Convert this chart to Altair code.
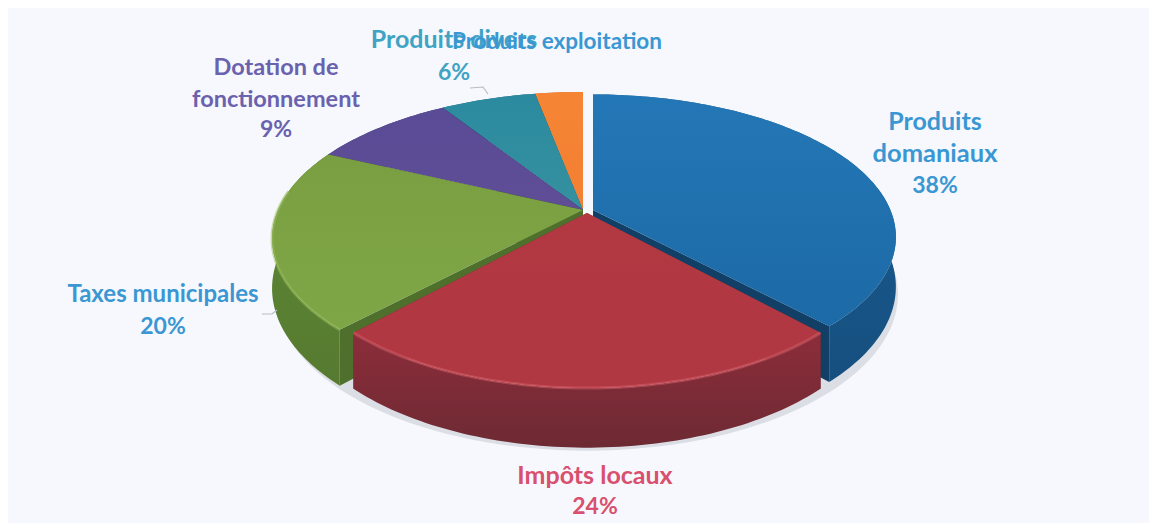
import math
import altair as alt

# ---- data ----
CATEGORIES = ["Produits domaniaux", "Impôts locaux", "Taxes municipales",
              "Dotation de fonctionnement", "Produits divers", "Produits exploitation"]
SHARES = [38, 24, 20, 9, 6, 3]

# ---- styling / layout (kept apart from the data) ----
TOP = {"Produits domaniaux": ("#2477b6", "#1c6aa6"),
       "Impôts locaux": ("#b23842", "#b03843"),
       "Taxes municipales": ("#7a9f42", "#7ea646"),
       "Dotation de fonctionnement": ("#5a4b96", "#5f4e96"),
       "Produits divers": ("#2c8aa0", "#35919f"),
       "Produits exploitation": ("#f58535", "#f47f32")}
WALL = {"Produits domaniaux": ("#1c5f92", "#154f7f"),
        "Impôts locaux": ("#8c2d3a", "#6d2a33"),
        "Taxes municipales": ("#5f8a36", "#567a30"),
        "Dotation de fonctionnement": ("#453a78", "#3a3068"),
        "Produits divers": ("#1f6a7e", "#1a5a6c"),
        "Produits exploitation": ("#c2652a", "#a85722")}
RIM = {"Impôts locaux": "#d8606a", "Taxes municipales": "#97bb5c"}
INNER = {"Produits domaniaux": "#123f66", "Impôts locaux": "#6d2a33",
         "Taxes municipales": "#4f6f2c", "Dotation de fonctionnement": "#2d2658",
         "Produits divers": "#175060", "Produits exploitation": "#a85722"}
# explode dx, dy, radius factor, horizontal factor
OFFSET = {"Produits domaniaux": (10, 0, 0.975, 1.0), "Impôts locaux": (4, 3, 1.0, 0.96)}
DRAW_ORDER = ["Produits exploitation", "Produits divers", "Dotation de fonctionnement",
              "Taxes municipales", "Produits domaniaux", "Impôts locaux"]
PAGE = 8
CX, CY, A, B, K, DEPTH = 583, 210, 305, 141, 0.1945, 48
BG = "#f6f8fd"


def project(angle, rad=1.0, off=(0, 0), down=0.0, xf=1.0):
    X, Y = rad * math.sin(angle), rad * math.cos(angle)
    w = 1 + K * Y
    return [CX + off[0] + xf * A * X / w - PAGE,
            CY + off[1] - B * Y / w + down / w - PAGE]


def feature(kind, coords):
    return {"type": "Feature", "properties": {},
            "geometry": {"type": kind, "coordinates": coords}}


def shape(geom, **mark):
    return (alt.Chart(alt.Data(values=[geom]))
            .mark_geoshape(**mark)
            .project(type="identity", scale=1, translate=[0, 0]))


def grad(c0, c1):
    return {"gradient": "linear", "x1": 0, "y1": 0, "x2": 0, "y2": 1,
            "stops": [{"offset": 0, "color": c0}, {"offset": 1, "color": c1}]}


# slice angles derive from the shares
angles, acc = {}, 0
for name, share in zip(CATEGORIES, SHARES):
    angles[name] = (acc / 100 * 2 * math.pi, (acc + share) / 100 * 2 * math.pi)
    acc += share

layers = []
# soft shadow under the front of the pie only
ring = [project(math.radians(80 + i * 200 / 90), 1.0, (4, 6), DEPTH) for i in range(91)]
ring.append(ring[0])
layers.append(shape(feature("Polygon", [ring]), fill="#8a8f9c", opacity=0.25, stroke=None))

for name in DRAW_ORDER:
    a0, a1 = angles[name]
    dx, dy, rad, xf = OFFSET.get(name, (0, 0, 1.0, 1.0))
    off = (dx, dy)
    n = max(4, int((a1 - a0) / 0.02))
    ts = [a0 + (a1 - a0) * i / n for i in range(n + 1)]
    top_rim = [project(t, rad, off, 0, xf) for t in ts]
    low_rim = [project(t, rad, off, DEPTH, xf) for t in ts]
    apex = project(0, 0, off)
    apex_low = project(0, 0, off, DEPTH)
    # inner radial faces
    for t in (a0, a1):
        face = [apex, project(t, rad, off, 0, xf), project(t, rad, off, DEPTH, xf), apex_low, apex]
        layers.append(shape(feature("Polygon", [face]), fill=INNER[name], stroke=None))
    # outer wall
    wall = top_rim + low_rim[::-1] + [top_rim[0]]
    layers.append(shape(feature("Polygon", [wall]), fill=grad(*WALL[name]), stroke=None))
    # top surface
    top = [apex] + top_rim + [apex]
    layers.append(shape(feature("Polygon", [top]), fill=grad(*TOP[name]), stroke=None))
    # bevel highlight on the rim
    if name in RIM:
        rim = [p for p, t in zip(top_rim, ts) if math.cos(t) < 0.15]
        layers.append(shape(feature("LineString", rim), filled=False, stroke=RIM[name],
                            strokeWidth=3, opacity=0.5))

# leader lines
LEADERS = [([470, 88], [483, 87], [488, 94]), ([262, 314], [272, 314], [277, 310])]
for pts in LEADERS:
    layers.append(shape(feature("LineString", [[p[0] - PAGE, p[1] - PAGE] for p in pts]),
                        filled=False, stroke="#b9bcc4", strokeWidth=1.2))

# text: per category, the lines with their place, colour and size
PCT = dict(zip(CATEGORIES, SHARES))
TEXT = [
    ("Produits", 935, 122, "#3a97d3", 25), ("domaniaux", 935, 154, "#3a97d3", 25.5),
    (f"{PCT['Produits domaniaux']}%", 935, 186, "#3a97d3", 23),
    ("Impôts locaux", 595, 476, "#d9506e", 25), (f"{PCT['Impôts locaux']}%", 595, 507, "#d9506e", 23),
    ("Taxes municipales", 163, 295, "#3a97d3", 24), (f"{PCT['Taxes municipales']}%", 163, 327, "#3a97d3", 23),
    ("Dotation de", 276, 68, "#6a62ae", 23.5), ("fonctionnement", 276, 100, "#6a62ae", 23.5),
    (f"{PCT['Dotation de fonctionnement']}%", 276, 130, "#6a62ae", 23),
    ("Produits divers", 454, 40, "#3fa3c4", 25), (f"{PCT['Produits divers']}%", 454, 73, "#3fa3c4", 23),
    ("Produits exploitation", 557, 42, "#3a97d3", 22.5),
]
rows = [{"t": t, "x": x - PAGE, "y": y - PAGE, "c": c, "s": s} for t, x, y, c, s in TEXT]
labels = alt.Chart(alt.Data(values=rows)).mark_text(
    font="Lato", fontWeight="bold", align="center", baseline="middle"
).encode(
    x=alt.X("x:Q", scale=None), y=alt.Y("y:Q", scale=None),
    text="t:N", color=alt.Color("c:N", scale=None), size=alt.Size("s:Q", scale=None),
)
layers.append(labels)

chart = (alt.layer(*layers)
         .properties(width=1141, height=515, padding=0, background=BG)
         .configure_view(strokeWidth=0))
chart.save("out.html", embed_options={"renderer": "svg", "actions": False})
